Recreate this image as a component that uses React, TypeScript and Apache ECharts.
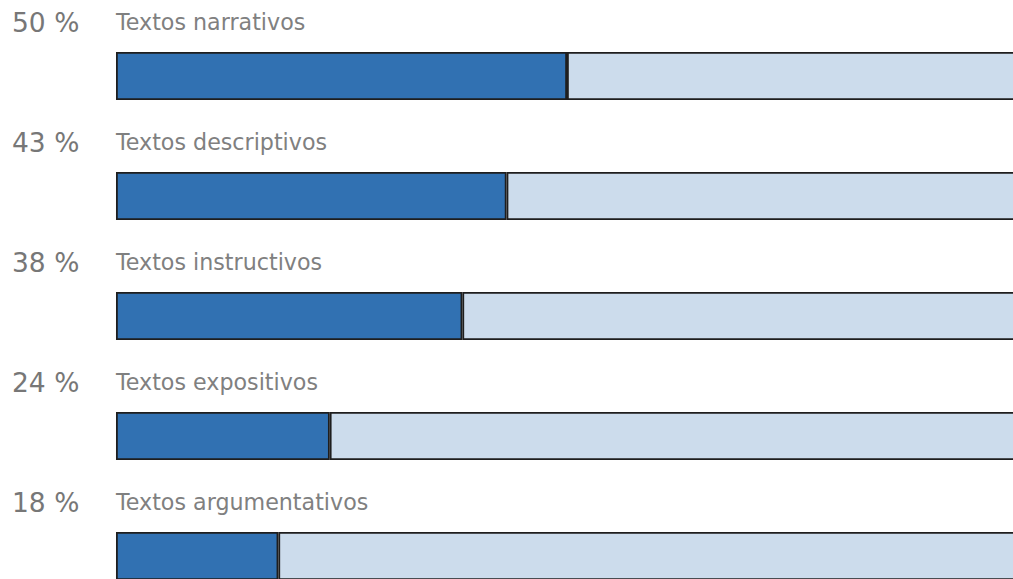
import React, { useEffect, useRef } from "react";
import * as echarts from "echarts";

const categories = [
  "Textos narrativos",
  "Textos descriptivos",
  "Textos instructivos",
  "Textos expositivos",
  "Textos argumentativos",
];
const values = [50, 43.3, 38.4, 23.7, 18];
const total = 100;

export default function App() {
  const ref = useRef<HTMLDivElement>(null);
  useEffect(() => {
    if (!ref.current) return;
    const chart = echarts.init(ref.current, undefined, { renderer: "svg" });
    const rest = values.map((v) => total - v);
    chart.setOption({
      animation: false,
      grid: { left: 116, right: 22, top: 16, bottom: 0, containLabel: false },
      xAxis: { type: "value", min: 0, max: total, show: false },
      yAxis: {
        type: "category",
        data: categories,
        inverse: true,
        show: false,
      },
      series: [
        {
          type: "bar",
          stack: "s",
          data: values,
          barWidth: 48,
          itemStyle: { color: "#3171B2", borderColor: "#1e1e1e", borderWidth: 1.8 },
          label: {
            show: true,
            position: [-104, -30],
            verticalAlign: "middle",
            formatter: (p: any) =>
              `{p|${Math.round(values[p.dataIndex])} %}{c|${categories[p.dataIndex]}}`,
            rich: {
              p: { fontSize: 26.5, color: "#777777", width: 104, fontFamily: "DejaVu Sans" },
              c: { fontSize: 22.2, color: "#808080", fontFamily: "DejaVu Sans" },
            },
          },
        },
        {
          type: "bar",
          stack: "s",
          data: rest,
          barWidth: 48,
          itemStyle: { color: "#CCDCEC", borderColor: "#1e1e1e", borderWidth: 1.8 },
        },
      ],
    });
    return () => chart.dispose();
  }, []);
  return (
    <div
      style={{
        position: "fixed",
        left: 0,
        top: 0,
        width: 1013,
        height: 579,
        overflow: "hidden",
        background: "#fff",
      }}
    >
      <div ref={ref} style={{ width: 1040, height: 616 }} />
    </div>
  );
}
